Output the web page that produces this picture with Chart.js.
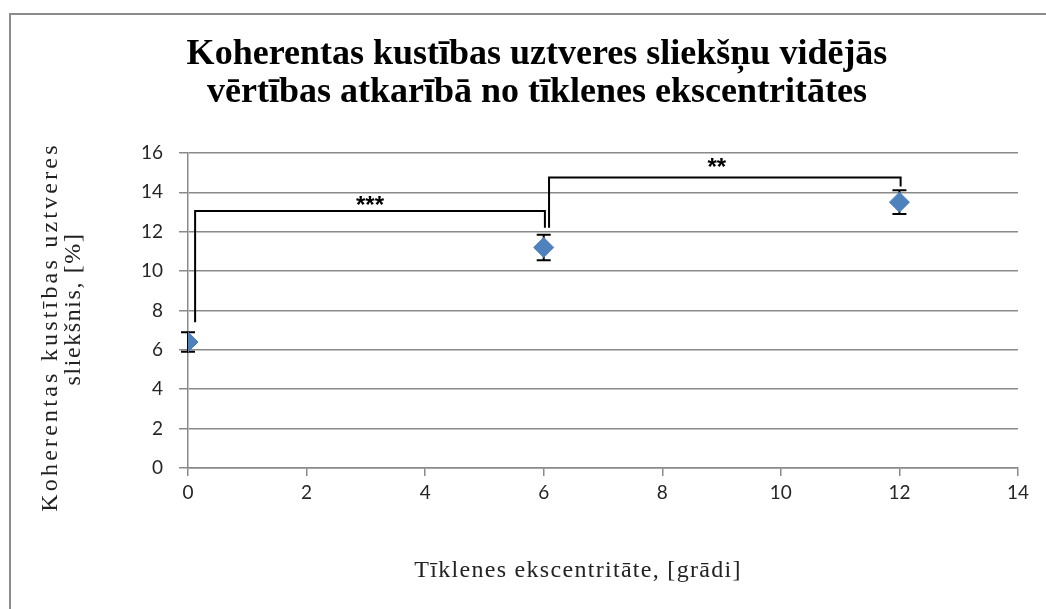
<!DOCTYPE html>
<html>
<head>
<meta charset="utf-8">
<script src="https://cdn.jsdelivr.net/npm/chart.js@4.4.0/dist/chart.umd.min.js"></script>
<style>
  html, body { margin: 0; padding: 0; background: #fff; }
  #wrap { position: relative; width: 1046px; height: 609px; }
  #frame { position: absolute; left: 9px; top: 13px; right: -10px; bottom: -10px;
           border-left: 2px solid #8c8c8c; border-top: 2px solid #8c8c8c; }
  canvas { position: absolute; left: 0; top: 0; }
</style>
</head>
<body>
<div id="wrap">
  <div id="frame"></div>
  <canvas id="chart" width="1046" height="609"></canvas>
</div>
<script>
// mean coherent motion thresholds by retinal eccentricity
var eccentricity = [0, 6, 12];
var thresholdMean = [6.4, 11.2, 13.5];
var thresholdErr = [0.5, 0.65, 0.6];

// significance brackets (data coordinates)
var bracket1X = [0.12, 0.12, 6.02, 6.02];
var bracket1Y = [7.4, 13.05, 13.05, 12.2];
var bracket2X = [6.09, 6.09, 12.02, 12.02];
var bracket2Y = [12.2, 14.75, 14.75, 14.3];
var starLabels = ['***', '**'];
var starX = [3.07, 8.92];
var starY = [13.3, 15.2];

var titleLines = ['Koherentas kustības uztveres sliekšņu vidējās',
                  'vērtības atkarībā no tīklenes ekscentritātes'];
var yTitleLines = ['Koherentas kustības uztveres', 'sliekšnis, [%]'];
var xTitle = 'Tīklenes ekscentritāte, [grādi]';

function toPoints(xs, ys) {
  return xs.map(function(x, i) { return { x: x, y: ys[i] }; });
}

var errorBars = {
  id: 'errorBars',
  beforeDatasetsDraw: function(chart) {
    var ctx = chart.ctx, xs = chart.scales.x, ys = chart.scales.y;
    ctx.save();
    ctx.strokeStyle = '#000';
    ctx.lineWidth = 2;
    for (var i = 0; i < eccentricity.length; i++) {
      var px = xs.getPixelForValue(eccentricity[i]);
      var top = ys.getPixelForValue(thresholdMean[i] + thresholdErr[i]);
      var bot = ys.getPixelForValue(thresholdMean[i] - thresholdErr[i]);
      ctx.beginPath();
      ctx.moveTo(px, top); ctx.lineTo(px, bot);
      ctx.moveTo(px - 7, top); ctx.lineTo(px + 7, top);
      ctx.moveTo(px - 7, bot); ctx.lineTo(px + 7, bot);
      ctx.stroke();
    }
    ctx.restore();
  }
};

var extraText = {
  id: 'extraText',
  afterDraw: function(chart) {
    var ctx = chart.ctx, xs = chart.scales.x, ys = chart.scales.y;
    ctx.save();
    // stars
    ctx.fillStyle = '#000';
    ctx.font = 'bold 24px "Liberation Sans"';
    ctx.textAlign = 'center';
    ctx.textBaseline = 'middle';
    for (var i = 0; i < starLabels.length; i++) {
      ctx.fillText(starLabels[i], xs.getPixelForValue(starX[i]), ys.getPixelForValue(starY[i]));
    }
    // axis titles
    ctx.fillStyle = '#222';
    ctx.font = '24px "Liberation Serif"';
    ctx.textBaseline = 'alphabetic';
    ctx.save();
    ctx.letterSpacing = '1.3px';
    ctx.fillText(xTitle, 578, 577);
    ctx.restore();
    ctx.save();
    ctx.translate(57, 327);
    ctx.rotate(-Math.PI / 2);
    ctx.letterSpacing = '3.2px';
    ctx.fillText(yTitleLines[0], 0, 0);
    ctx.restore();
    ctx.save();
    ctx.translate(80, 309);
    ctx.rotate(-Math.PI / 2);
    ctx.letterSpacing = '1.6px';
    ctx.fillText(yTitleLines[1], 0, 0);
    ctx.restore();
    ctx.restore();
  }
};

var ctx = document.getElementById('chart');
var chart = new Chart(ctx, {
  type: 'scatter',
  data: {
    datasets: [{
      label: 'Slieksnis',
      data: toPoints(eccentricity, thresholdMean),
      pointStyle: 'rectRot',
      pointRadius: 10,
      pointBackgroundColor: '#4F81BD',
      pointBorderColor: '#4F81BD',
      order: 0
    }, {
      label: 'bracket1',
      data: toPoints(bracket1X, bracket1Y),
      showLine: true,
      borderColor: '#000',
      borderWidth: 2,
      pointRadius: 0,
      order: 1
    }, {
      label: 'bracket2',
      data: toPoints(bracket2X, bracket2Y),
      showLine: true,
      borderColor: '#000',
      borderWidth: 2,
      pointRadius: 0,
      order: 1
    }]
  },
  options: {
    responsive: false,
    animation: false,
    layout: { padding: { left: 56, right: 28, top: 0, bottom: 0 } },
    plugins: {
      legend: { display: false },
      tooltip: { enabled: false },
      title: {
        display: true,
        text: titleLines,
        color: '#000',
        font: { family: '"Liberation Serif"', size: 36, weight: 'bold', lineHeight: 1.055 },
        padding: { top: 35.5, bottom: 41.5 }
      }
    },
    scales: {
      x: {
        type: 'linear',
        min: 0, max: 14,
        afterFit: function(s) { s.height = 141; },
        ticks: { stepSize: 2, color: '#262626', padding: 5, font: { family: 'Lato', size: 19 } },
        grid: { drawOnChartArea: false, drawTicks: true, tickLength: 8, color: '#8a8a8a', lineWidth: 1.5 },
        border: { color: '#8a8a8a', width: 1.5 }
      },
      y: {
        min: 0, max: 16,
        afterFit: function(s) { s.width = 132; },
        ticks: { stepSize: 2, color: '#262626', padding: 16, font: { family: 'Lato', size: 19 } },
        grid: { drawTicks: true, tickLength: 9, color: '#8a8a8a', lineWidth: 1.5 },
        border: { color: '#8a8a8a', width: 1.5 }
      }
    }
  },
  plugins: [errorBars, extraText]
});
</script>
</body>
</html>
